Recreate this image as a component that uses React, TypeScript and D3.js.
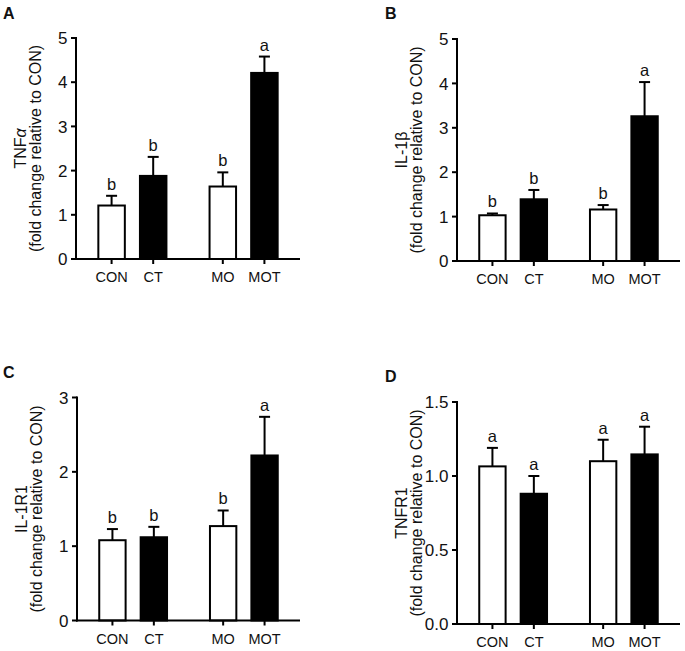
import React from "react";
import * as d3 from "d3";

const categories = ["CON", "CT", "MO", "MOT"];
const groups = [["CON", "CT"], ["MO", "MOT"]];
const filledCats = ["CT", "MOT"];

const tnfaMean = [1.21, 1.88, 1.64, 4.21];
const tnfaErr = [0.22, 0.43, 0.32, 0.37];
const tnfaSig = ["b", "b", "b", "a"];
const tnfaTicks = [0, 1, 2, 3, 4, 5];

const il1bMean = [1.03, 1.39, 1.16, 3.26];
const il1bErr = [0.04, 0.21, 0.1, 0.77];
const il1bSig = ["b", "b", "b", "a"];
const il1bTicks = [0, 1, 2, 3, 4, 5];

const il1r1Mean = [1.08, 1.12, 1.27, 2.22];
const il1r1Err = [0.15, 0.14, 0.21, 0.52];
const il1r1Sig = ["b", "b", "b", "a"];
const il1r1Ticks = [0, 1, 2, 3];

const tnfr1Mean = [1.065, 0.88, 1.1, 1.146];
const tnfr1Err = [0.125, 0.12, 0.145, 0.187];
const tnfr1Sig = ["a", "a", "a", "a"];
const tnfr1Ticks = [0, 0.5, 1.0, 1.5];

const FONT = "'Liberation Sans', Arial, Helvetica, sans-serif";
const INK = "#111";

type PanelProps = {
  letter: string;
  lx: number;
  ly: number;
  axisX: number;
  y0: number;
  yTop: number;
  axisLen: number;
  ticks: number[];
  fmt: (v: number) => string;
  means: number[];
  errs: number[];
  sig: string[];
  label1: React.ReactNode;
  label2: string;
};

function Panel(p: PanelProps) {
  const maxV = p.ticks[p.ticks.length - 1];
  const y = d3.scaleLinear().domain([0, maxV]).range([p.y0, p.yTop]);
  const gScale = d3
    .scaleBand<number>()
    .domain(groups.map((_, i) => i))
    .range([p.axisX, p.axisX + p.axisLen])
    .paddingInner(0.25)
    .paddingOuter(0.132);
  const inner = d3
    .scaleBand<number>()
    .domain([0, 1])
    .range([0, gScale.bandwidth()])
    .paddingInner(0.315)
    .paddingOuter(0.16);
  const cx = (cat: string) => {
    const gi = groups.findIndex((g) => g.includes(cat));
    const ii = groups[gi].indexOf(cat);
    return (gScale(gi) as number) + (inner(ii) as number) + inner.bandwidth() / 2;
  };
  const bw = inner.bandwidth();
  const midY = (p.y0 + p.yTop) / 2;
  return (
    <g fill={INK}>
      <text x={p.lx} y={p.ly} fontSize={16} fontWeight="bold" fontFamily={FONT}>
        {p.letter}
      </text>
      <g transform={`translate(${p.axisX - 50},${midY}) rotate(-90)`}>
        <text x={0} y={0} textAnchor="middle" fontSize={16} fontFamily={FONT}>
          {p.label1}
        </text>
        <text x={0} y={15} textAnchor="middle" fontSize={16} fontFamily={FONT}>
          {p.label2}
        </text>
      </g>
      {categories.map((c, i) => {
        const x = cx(c);
        const top = y(p.means[i]);
        const et = y(p.means[i] + p.errs[i]);
        const filled = filledCats.includes(c);
        return (
          <g key={c}>
            <line x1={x} x2={x} y1={top} y2={et} stroke="#000" strokeWidth={2} />
            <line x1={x - 5.5} x2={x + 5.5} y1={et} y2={et} stroke="#000" strokeWidth={2} />
            <rect
              x={x - bw / 2 + 1}
              y={top}
              width={bw - 2}
              height={p.y0 - top}
              fill={filled ? "#000" : "#fff"}
              stroke="#000"
              strokeWidth={2}
            />
            <text x={x} y={et - 6} textAnchor="middle" fontSize={16.5} fontFamily={FONT}>
              {p.sig[i]}
            </text>
            <line x1={x} x2={x} y1={p.y0} y2={p.y0 + 5} stroke="#000" strokeWidth={2} />
            <text x={x} y={p.y0 + 23} textAnchor="middle" fontSize={14.5} fontFamily={FONT}>
              {c}
            </text>
          </g>
        );
      })}
      <line x1={p.axisX} x2={p.axisX} y1={p.yTop - 1} y2={p.y0 + 1} stroke="#000" strokeWidth={2} />
      {p.ticks.map((t) => (
        <g key={t}>
          <line x1={p.axisX - 5} x2={p.axisX} y1={y(t)} y2={y(t)} stroke="#000" strokeWidth={2} />
          <text
            x={p.axisX - 8.5}
            y={y(t)}
            dy="0.36em"
            textAnchor="end"
            fontSize={17}
            fontFamily={FONT}
          >
            {p.fmt(t)}
          </text>
        </g>
      ))}
      <line x1={p.axisX - 1} x2={p.axisX + p.axisLen} y1={p.y0} y2={p.y0} stroke="#000" strokeWidth={2} />
    </g>
  );
}

export default function App() {
  const intFmt = d3.format("d");
  const decFmt = d3.format(".1f");
  return (
    <svg
      width={685}
      height={651}
      style={{ position: "absolute", left: 0, top: 0, background: "#fff" }}
    >
      <rect width={685} height={651} fill="#fff" />
      <Panel
        letter="A" lx={3} ly={19}
        axisX={76} y0={259} yTop={38} axisLen={224}
        ticks={tnfaTicks} fmt={intFmt}
        means={tnfaMean} errs={tnfaErr} sig={tnfaSig}
        label1={<>TNF<tspan fontStyle="italic">α</tspan></>}
        label2="(fold change relative to CON)"
      />
      <Panel
        letter="B" lx={385} ly={19}
        axisX={457} y0={261} yTop={39} axisLen={223}
        ticks={il1bTicks} fmt={intFmt}
        means={il1bMean} errs={il1bErr} sig={il1bSig}
        label1="IL-1β"
        label2="(fold change relative to CON)"
      />
      <Panel
        letter="C" lx={3} ly={378}
        axisX={77} y0={620.5} yTop={397.5} axisLen={223}
        ticks={il1r1Ticks} fmt={intFmt}
        means={il1r1Mean} errs={il1r1Err} sig={il1r1Sig}
        label1="IL-1R1"
        label2="(fold change relative to CON)"
      />
      <Panel
        letter="D" lx={385} ly={382}
        axisX={457} y0={624} yTop={402} axisLen={223}
        ticks={tnfr1Ticks} fmt={decFmt}
        means={tnfr1Mean} errs={tnfr1Err} sig={tnfr1Sig}
        label1="TNFR1"
        label2="(fold change relative to CON)"
      />
    </svg>
  );
}
